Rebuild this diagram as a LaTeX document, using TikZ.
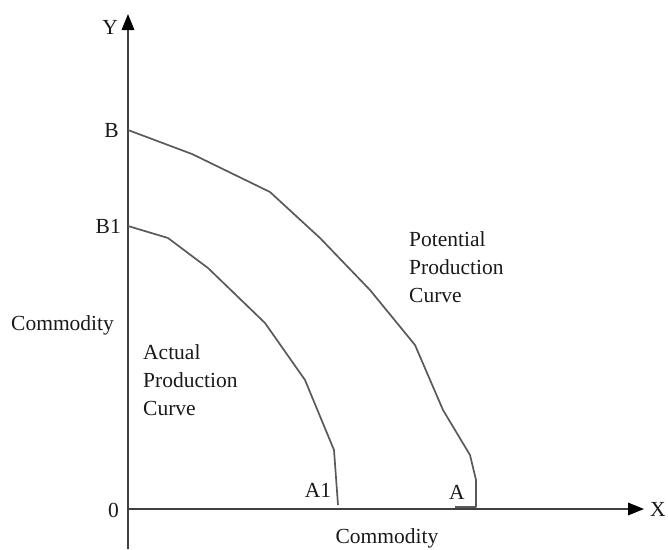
\documentclass[tikz,border=0pt]{standalone}
\usepackage{fontspec}
\setmainfont{Liberation Serif}
\usetikzlibrary{arrows.meta}
\begin{document}
\begin{tikzpicture}[x=1pt,y=-1pt,
  axis/.style={draw=black!75,line width=1.7pt},
  tip/.style={-{Triangle[length=16pt,width=12.5pt,color=black]}},
  curve/.style={draw=black!65,line width=1.7pt,line join=round},
  lbl/.style={font=\fontsize{21.5}{28}\selectfont,inner sep=0pt,text=black!90},
  multi/.style={lbl,align=left}]
\useasboundingbox (0,0) rectangle (668,549);
% axes
\coordinate (ybot) at (128,549);
\coordinate (ytop) at (128,14);
\coordinate (xleft) at (128,509);
\coordinate (xright) at (644,509);
\draw[axis,tip] (ybot) -- (ytop);
\draw[axis,tip] (xleft) -- (xright);
% potential curve
\coordinate (B) at (128,130);
\coordinate (A) at (455,507);
\draw[curve] (B) -- (192,154) -- (270,192) -- (320,238) -- (370,290) -- (415,345) -- (443,410) -- (470,455) -- (476,480) -- (476,507) -- (A);
% actual curve
\coordinate (B1) at (128,226);
\coordinate (A1) at (338,505);
\draw[curve] (B1) -- (168,238) -- (208,268) -- (265,323) -- (305,380) -- (334,450) -- (A1);
% labels
\node[lbl,anchor=east] (lY) at (118,27) {Y};
\node[lbl,anchor=west] (lX) at (650,509) {X};
\node[lbl,anchor=east] (lB) at (119,130) {B};
\node[lbl,anchor=east] (lB1) at (121,226) {B1};
\node[lbl,anchor=east] (l0) at (119,510) {0};
\node[lbl] (lA1) at (318,490) {A1};
\node[lbl] (lA) at (457,492) {A};
\node[lbl,anchor=west] (lCy) at (11,325) {Commodity};
\node[lbl] (lCx) at (387,538) {Commodity};
\node[multi,anchor=north west] (pot) at (409,231) {Potential\\Production\\Curve};
\node[multi,anchor=north west] (act) at (143,344) {Actual\\Production\\Curve};
\end{tikzpicture}
\end{document}
